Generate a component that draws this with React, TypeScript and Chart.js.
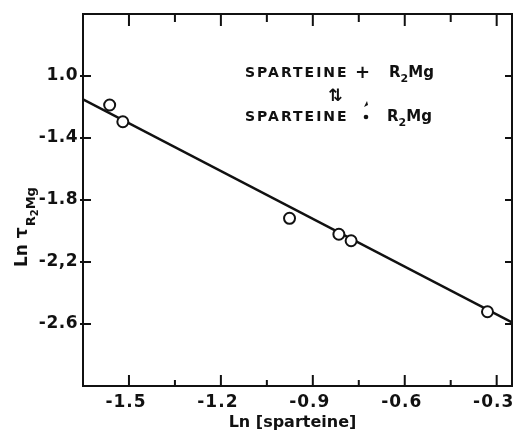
import { useEffect, useRef } from "react";
import { Chart, registerables } from "chart.js";
Chart.register(...registerables);

// ---- data ----
const sparteineLn = [-1.563, -1.52, -0.976, -0.815, -0.775, -0.33];
const tauLn = [-1.187, -1.295, -1.918, -2.021, -2.063, -2.521];
const fitX = [-1.65, -0.25];
const fitY = [-1.15, -2.59];

const xMin = -1.65;
const xMax = -0.25;
const yMin = -3.0;
const yMax = -0.6;
const xTickMarks = [-1.5, -1.35, -1.2, -1.05, -0.9, -0.75, -0.6, -0.45, -0.3];
const xTickValues = [-1.5, -1.2, -0.9, -0.6, -0.3];
const xTickLabels = ["-1.5", "-1.2", "-0.9", "-0.6", "-0.3"];
const yTickValues = [-1.0, -1.4, -1.8, -2.2, -2.6];
const yTickLabels = ["1.0", "-1.4", "-1.8", "-2,2", "-2.6"];

const xTitle = "Ln [sparteine]";
const yTitleMain = "Ln τ";
const yTitleSub = "R";
const yTitleSubSub = "2";
const yTitleSubTail = "Mg";
const eqWord = "SPARTEINE";
const eqPlus = "+";
const eqR = "R";
const eqTwo = "2";
const eqMg = "Mg";
const eqArrows = "⇅";

const FONT = "'DejaVu Sans', sans-serif";
const INK = "#111";

function labelFor(values: number[], labels: string[], v: number): string {
  for (let i = 0; i < values.length; i++) {
    if (Math.abs(values[i] - v) < 1e-6) return labels[i];
  }
  return "";
}

export default function App() {
  const ref = useRef<HTMLCanvasElement>(null);

  useEffect(() => {
    const canvas = ref.current;
    if (!canvas) return;

    const drawR2Mg = (ctx: CanvasRenderingContext2D, x: number, y: number, size: number) => {
      ctx.font = `bold ${size}px ${FONT}`;
      ctx.fillText(eqR, x, y);
      let w = ctx.measureText(eqR).width;
      ctx.font = `bold ${Math.round(size * 0.72)}px ${FONT}`;
      ctx.fillText(eqTwo, x + w, y + 5);
      w += ctx.measureText(eqTwo).width;
      ctx.font = `bold ${size}px ${FONT}`;
      ctx.fillText(eqMg, x + w, y);
    };

    const framePlugin = {
      id: "frame",
      beforeDraw(chart: any) {
        const ctx = chart.ctx as CanvasRenderingContext2D;
        ctx.save();
        ctx.fillStyle = "#fff";
        ctx.fillRect(0, 0, chart.width, chart.height);
        ctx.restore();
        (ctx as any).letterSpacing = "1px";
      },
      afterDatasetsDraw(chart: any) {
        (chart.ctx as any).letterSpacing = "0.5px";
      },
      afterDraw(chart: any) {
        const ctx = chart.ctx as CanvasRenderingContext2D;
        (ctx as any).letterSpacing = "0px";
        const { left, right, top, bottom } = chart.chartArea;
        ctx.save();
        ctx.strokeStyle = INK;
        ctx.fillStyle = INK;
        ctx.lineWidth = 2;
        ctx.strokeRect(left, top, right - left, bottom - top);

        // inward tick marks
        const xs = chart.scales.x;
        xs.ticks.forEach((t: any) => {
          const px = xs.getPixelForValue(t.value);
          const major = labelFor(xTickValues, xTickLabels, t.value) !== "";
          ctx.beginPath();
          ctx.moveTo(px, bottom);
          ctx.lineTo(px, bottom - (major ? 11 : 6));
          ctx.moveTo(px, top);
          ctx.lineTo(px, top + (major ? 12 : 8));
          ctx.stroke();
        });
        const ys = chart.scales.y;
        ys.ticks.forEach((t: any) => {
          const py = ys.getPixelForValue(t.value);
          ctx.beginPath();
          ctx.moveTo(left - 3, py);
          ctx.lineTo(left + 8, py);
          ctx.moveTo(right, py);
          ctx.lineTo(right - 7, py);
          ctx.stroke();
        });

        // x title
        ctx.font = `bold 16px ${FONT}`;
        ctx.textAlign = "center";
        ctx.textBaseline = "alphabetic";
        ctx.fillText(xTitle, (left + right) / 2 - 5, bottom + 41);

        // y title (rotated)
        ctx.save();
        ctx.translate(27, top + 253);
        ctx.rotate(-Math.PI / 2);
        ctx.textAlign = "left";
        ctx.font = `bold 17px ${FONT}`;
        ctx.fillText(yTitleMain, 0, 0);
        let w = ctx.measureText(yTitleMain).width + 1;
        ctx.font = `bold 13px ${FONT}`;
        ctx.fillText(yTitleSub, w, 8);
        w += ctx.measureText(yTitleSub).width;
        ctx.font = `bold 10px ${FONT}`;
        ctx.fillText(yTitleSubSub, w, 11);
        w += ctx.measureText(yTitleSubSub).width;
        ctx.font = `bold 13px ${FONT}`;
        ctx.fillText(yTitleSubTail, w, 8);
        ctx.restore();

        // equilibrium annotation
        const ax = left + 162;
        const ay1 = top + 63;
        const ay2 = top + 107;
        ctx.textAlign = "left";
        (ctx as any).letterSpacing = "2px";
        ctx.font = `bold 14px ${FONT}`;
        ctx.fillText(eqWord, ax, ay1);
        ctx.fillText(eqWord, ax, ay2);
        (ctx as any).letterSpacing = "0px";
        ctx.font = `bold 18px ${FONT}`;
        ctx.fillText(eqPlus, ax + 110, ay1 + 1);
        drawR2Mg(ctx, ax + 144, ay1, 15);
        drawR2Mg(ctx, ax + 142, ay2, 15);
        ctx.font = `bold 17px ${FONT}`;
        ctx.fillText(eqArrows, ax + 83, ay1 + 24);
        ctx.beginPath();
        ctx.arc(ax + 121, ay2 - 4, 2.3, 0, Math.PI * 2);
        ctx.fill();
        ctx.beginPath();
        ctx.moveTo(ax + 119, ay2 - 14);
        ctx.lineTo(ax + 122, ay2 - 20);
        ctx.lineTo(ax + 123, ay2 - 16);
        ctx.closePath();
        ctx.fill();

        ctx.restore();
      },
    };

    const chart = new Chart(canvas, {
      type: "scatter",
      data: {
        datasets: [
          {
            type: "line",
            data: fitX.map((x, i) => ({ x, y: fitY[i] })),
            borderColor: INK,
            borderWidth: 2.5,
            pointRadius: 0,
            fill: false,
            order: 2,
          } as any,
          {
            data: sparteineLn.map((x, i) => ({ x, y: tauLn[i] })),
            pointStyle: "circle",
            pointRadius: 5.5,
            pointBorderWidth: 2,
            pointBackgroundColor: "#fff",
            pointBorderColor: INK,
            backgroundColor: "#fff",
            borderColor: INK,
            order: 1,
          },
        ],
      },
      options: {
        responsive: false,
        animation: false,
        layout: { autoPadding: false, padding: { top: 14, right: 1, left: 0, bottom: 0 } },
        plugins: {
          legend: { display: false },
          tooltip: { enabled: false },
        },
        scales: {
          x: {
            type: "linear",
            min: xMin,
            max: xMax,
            grid: { display: false, drawTicks: false },
            border: { display: false },
            afterBuildTicks: (scale: any) => {
              scale.ticks = xTickMarks.map((v) => ({ value: v }));
            },
            afterFit: (scale: any) => {
              scale.height = 46;
              scale.paddingLeft = 0;
              scale.paddingRight = 0;
            },
            ticks: {
              autoSkip: false,
              maxRotation: 0,
              padding: 6,
              labelOffset: -3,
              color: INK,
              font: { family: FONT, size: 17, weight: "bold" },
              callback: (v: any) => labelFor(xTickValues, xTickLabels, Number(v)),
            },
          },
          y: {
            type: "linear",
            min: yMin,
            max: yMax,
            grid: { display: false, drawTicks: false },
            border: { display: false },
            afterBuildTicks: (scale: any) => {
              scale.ticks = yTickValues.map((v) => ({ value: v }));
            },
            afterFit: (scale: any) => {
              scale.width = 83;
              scale.paddingTop = 0;
              scale.paddingBottom = 0;
            },
            ticks: {
              z: 1,
              autoSkip: false,
              padding: 5,
              color: INK,
              font: { family: FONT, size: 17, weight: "bold" },
              callback: (v: any) => labelFor(yTickValues, yTickLabels, Number(v)),
            },
          },
        },
      },
      plugins: [framePlugin],
    });

    return () => chart.destroy();
  }, []);

  return (
    <div style={{ position: "absolute", left: 0, top: 0, width: 513, height: 432, background: "#fff" }}>
      <canvas ref={ref} width={513} height={432} style={{ display: "block" }} />
    </div>
  );
}
